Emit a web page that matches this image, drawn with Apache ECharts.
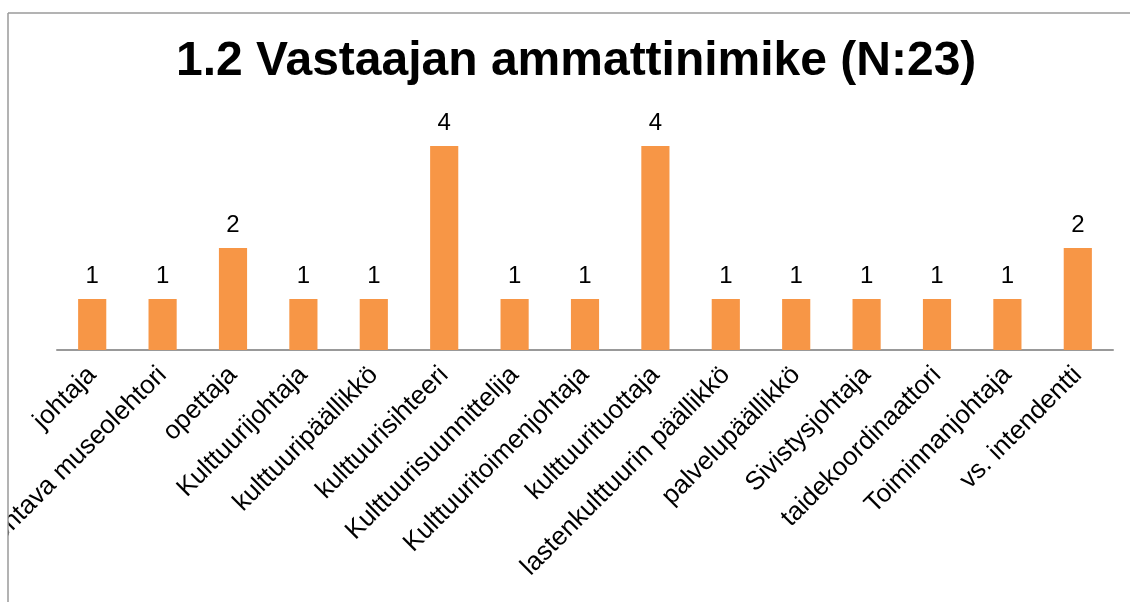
<!DOCTYPE html>
<html>
<head>
<meta charset="utf-8">
<script src="https://cdn.jsdelivr.net/npm/echarts@6/dist/echarts.min.js"></script>
<style>
  html, body { margin: 0; padding: 0; background: #fff; }
  #chart { width: 1130px; height: 602px; }
</style>
</head>
<body>
<div id="chart"></div>
<script>
var titleText = '1.2 Vastaajan ammattinimike (N:23)';

var categories = [
  'johtaja',
  'johtava museolehtori',
  'opettaja',
  'Kulttuurijohtaja',
  'kulttuuripäällikkö',
  'kulttuurisihteeri',
  'Kulttuurisuunnittelija',
  'Kulttuuritoimenjohtaja',
  'kulttuurituottaja',
  'lastenkulttuurin päällikkö',
  'palvelupäällikkö',
  'Sivistysjohtaja',
  'taidekoordinaattori',
  'Toiminnanjohtaja',
  'vs. intendentti'
];

var counts = [1, 1, 2, 1, 1, 4, 1, 1, 4, 1, 1, 1, 1, 1, 2];

var font = 'Liberation Sans, Arial, sans-serif';
var frameColor = '#9a9a9a';

var chart = echarts.init(document.getElementById('chart'));
chart.setOption({
  animation: false,
  backgroundColor: '#fff',
  title: {
    text: titleText,
    left: 171,
    top: 33,
    textStyle: {
      fontFamily: font,
      fontSize: 48,
      fontWeight: 'bold',
      color: '#000'
    }
  },
  grid: {
    left: 57,
    right: 17,
    top: 95,
    bottom: 252,
    containLabel: false,
    outerBoundsMode: 'none'
  },
  xAxis: {
    type: 'category',
    data: categories,
    axisLine: { lineStyle: { color: '#999', width: 2 } },
    axisTick: { show: false },
    axisLabel: {
      interval: 0,
      rotate: 45,
      margin: 21,
      fontFamily: font,
      fontSize: 26,
      color: '#000'
    }
  },
  yAxis: {
    type: 'value',
    min: 0,
    max: 5,
    show: false
  },
  series: [{
    type: 'bar',
    data: counts,
    barWidth: '40%',
    itemStyle: { color: '#F79646' },
    label: {
      show: true,
      position: 'top',
      distance: 11,
      fontFamily: font,
      fontSize: 24,
      color: '#000'
    }
  }],
  graphic: [
    // hide the part of the labels that falls outside the frame
    {
      type: 'rect',
      z: 100,
      shape: { x: 0, y: 0, width: 8, height: 602 },
      style: { fill: '#fff' }
    },
    {
      type: 'line',
      z: 101,
      shape: { x1: 8, y1: 13, x2: 1130, y2: 13 },
      style: { stroke: frameColor, lineWidth: 1.5 }
    },
    {
      type: 'line',
      z: 101,
      shape: { x1: 8, y1: 13, x2: 8, y2: 602 },
      style: { stroke: frameColor, lineWidth: 1.5 }
    }
  ]
});
</script>
</body>
</html>
